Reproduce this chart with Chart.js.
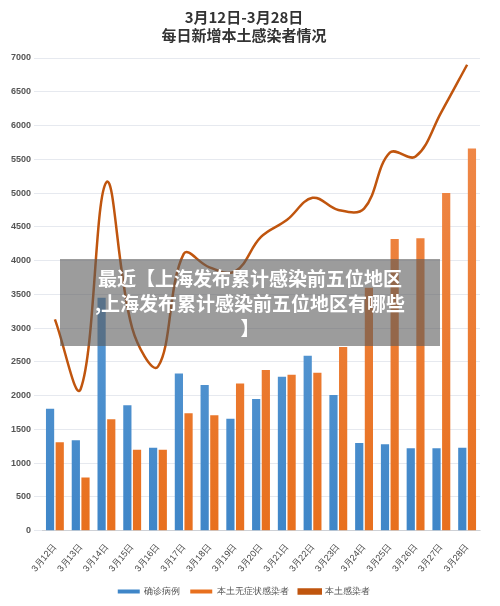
<!DOCTYPE html><html><head><meta charset="utf-8"><script src="https://cdn.jsdelivr.net/npm/chart.js@4"></script>
<style>body{margin:0;background:#fff;font-family:"Noto Sans CJK SC",sans-serif}#w{position:relative;width:500px;height:606px}
#b{position:absolute;left:60px;top:259px;width:380px;height:87px;background:rgba(90,90,90,0.6);color:#fff;font-weight:bold;font-size:19px;line-height:25px;text-align:center;padding-top:6px;box-sizing:border-box}</style></head><body><div id="w"><canvas id="c" width="500" height="606"></canvas><div id="b">最近【上海发布累计感染前五位地区<br>,上海发布累计感染前五位地区有哪些<br>】</div></div>
<script>
const categories=["3月12日","3月13日","3月14日","3月15日","3月16日","3月17日","3月18日","3月19日","3月20日","3月21日","3月22日","3月23日","3月24日","3月25日","3月26日","3月27日","3月28日"];
const confirmed=[1807,1340,3450,1860,1230,2330,2160,1660,1950,2280,2590,2010,1300,1280,1220,1220,1230];
const asymptomatic=[1310,790,1650,1200,1200,1740,1710,2180,2380,2310,2340,2720,3600,4320,4330,5000,5660];
const local=[3130,2100,5160,3000,2430,4100,3900,3840,4350,4600,4930,4750,4770,5600,5540,6200,6900];
const ctx=document.getElementById('c').getContext('2d');
function grad(c1,c2){const g=ctx.createLinearGradient(0,60,0,530);g.addColorStop(0,c1);g.addColorStop(1,c2);return g;}
new Chart(ctx,{type:'bar',data:{labels:categories,datasets:[
{label:'确诊病例',data:confirmed,backgroundColor:grad('#6fa8dc','#3f86c8'),order:1,categoryPercentage:0.75,barPercentage:0.85},
{label:'本土无症状感染者',data:asymptomatic,backgroundColor:grad('#f08c50','#e8701e'),order:1,categoryPercentage:0.75,barPercentage:0.85},
{type:'line',label:'本土感染者',data:local,borderColor:'#c0550e',backgroundColor:'#c0550e',borderWidth:2.5,pointRadius:0,tension:0.38,order:0}]},
options:{responsive:false,animation:false,layout:{padding:{left:8,right:20,top:0,bottom:0}},
plugins:{title:{display:true,text:['3月12日-3月28日','每日新增本土感染者情况'],color:'#333',font:{size:15,family:'"Noto Sans CJK SC"'},padding:{top:8,bottom:14}},
legend:{position:'bottom',labels:{boxWidth:22,boxHeight:4,font:{size:9},color:'#555',sort:(a,b)=>a.datasetIndex-b.datasetIndex}}},
scales:{y:{min:0,max:7000,ticks:{stepSize:500,font:{size:9,weight:'bold'},color:'#555',callback:v=>String(v)},grid:{color:'#e6e9ef'},border:{display:false}},
x:{ticks:{maxRotation:50,minRotation:50,font:{size:9},color:'#444'},grid:{display:false}}}}});
</script></body></html>
